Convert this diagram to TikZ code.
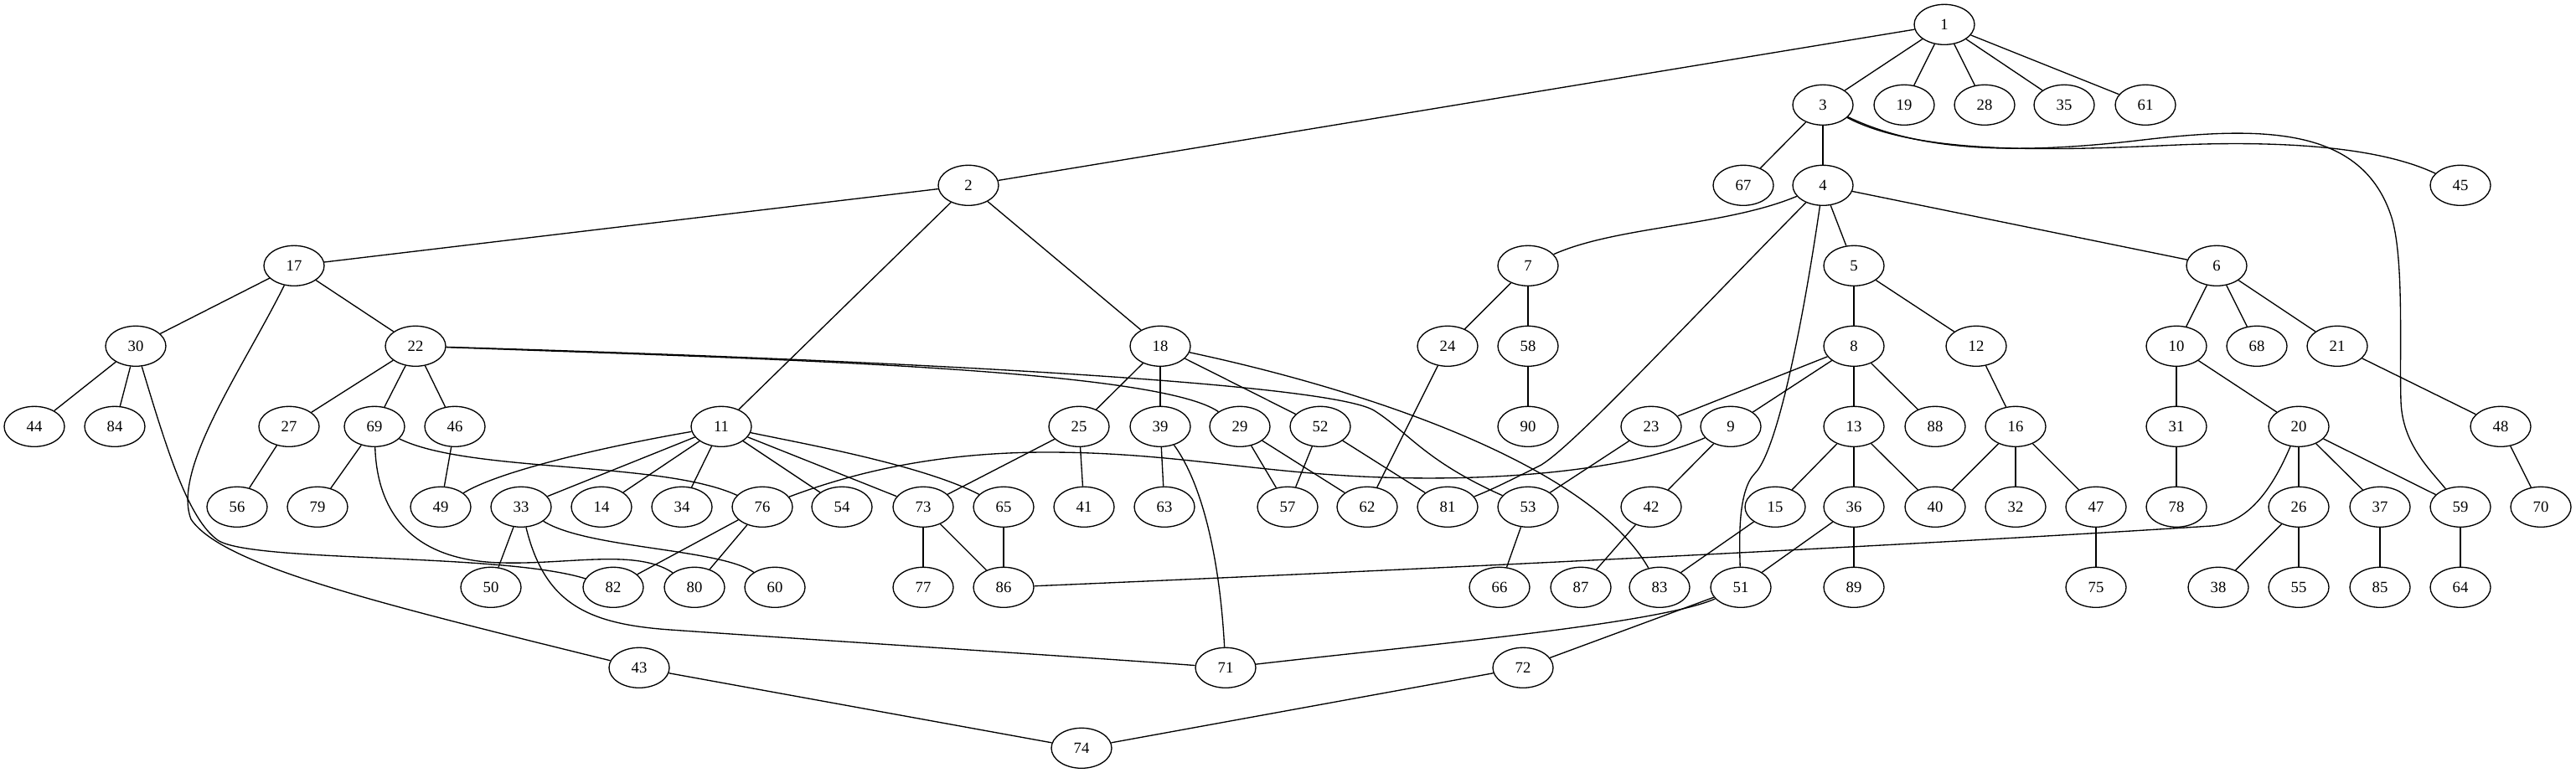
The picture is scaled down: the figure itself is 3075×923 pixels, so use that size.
\documentclass[tikz,border=0pt]{standalone}
\usepackage{fontspec}
\setmainfont{Liberation Serif}
\usetikzlibrary{shapes.geometric}
\begin{document}
\begin{tikzpicture}[x=0.75pt,y=-0.75pt,
  nd/.style={draw, ellipse, minimum width=54pt, minimum height=36pt, inner sep=0pt, line width=1pt, font=\fontsize{14}{16}\selectfont},
  ed/.style={line width=1pt}]
\useasboundingbox (0,0) rectangle (3075,923);
\def\ra{29.3}\def\rb{125.3}\def\rc{221.3}\def\rd{317.3}\def\re{413.3}
\def\rf{509.3}\def\rg{605.3}\def\rh{701.3}\def\ri{797.3}\def\rj{893.3}
\foreach \n/\x/\y in {1/2321/\ra, 2/1156/\rc, 3/2176/\rb, 4/2176/\rc, 5/2213/\rd, 6/2646/\rd, 7/1824/\rd,
 8/2213/\re, 9/2066/\rf, 10/2598/\re, 11/861/\rf, 12/2359/\re, 13/2213/\rf, 14/718/\rg, 15/2119/\rg,
 16/2406/\rf, 17/351/\rd, 18/1385/\re, 19/2273/\rb, 20/2744/\rf, 21/2790/\re, 22/496/\re, 23/1971/\rf,
 24/1728/\re, 25/1288/\rf, 26/2744/\rg, 27/345/\rf, 28/2369/\rb, 29/1480/\rf, 30/162/\re, 31/2598/\rf,
 32/2406/\rg, 33/622/\rg, 34/814/\rg, 35/2464/\rb, 36/2213/\rg, 37/2841/\rg, 38/2648/\rh, 39/1385/\rf,
 40/2310/\rg, 41/1294/\rg, 42/1971/\rg, 43/763/\ri, 44/41/\rf, 45/2937/\rc, 46/543/\rf, 47/2502/\rg,
 48/2985/\rf, 49/526/\rg, 50/586/\rh, 51/2078/\rh, 52/1576/\rf, 53/1824/\rg, 54/1005/\rg, 55/2744/\rh,
 56/283/\rg, 57/1537/\rg, 58/1824/\re, 59/2937/\rg, 60/925/\rh, 61/2561/\rb, 62/1632/\rg, 63/1390/\rg,
 64/2937/\rh, 65/1198/\rg, 66/1790/\rh, 67/2081/\rc, 68/2694/\re, 69/447/\rf, 70/3033/\rg, 71/1463/\ri,
 72/1818/\ri, 73/1102/\rg, 74/1291/\rj, 75/2502/\rh, 76/910/\rg, 77/1102/\rh, 78/2598/\rg, 79/379/\rg,
 80/829/\rh, 81/1728/\rg, 82/732/\rh, 83/1981/\rh, 84/137/\rf, 85/2841/\rh, 86/1198/\rh, 87/1887/\rh,
 88/2310/\rf, 89/2213/\rh, 90/1824/\rf}
 { \node[nd] (n\n) at (\x,\y) {\n}; }
% straight edges
\foreach \a/\b in {1/3,1/19,1/28,1/35,1/61,1/2,3/67,3/4,2/17,2/11,2/18,4/5,4/6,17/30,17/22,
 7/24,7/58,5/8,5/12,6/10,6/68,6/21,30/44,30/84,22/27,22/69,22/46,18/25,18/39,18/52,24/62,58/90,
 8/23,8/9,8/13,8/88,12/16,10/31,10/20,21/48,27/56,69/79,46/49,11/33,11/14,11/34,11/54,11/73,
 25/73,25/41,39/63,29/57,29/62,52/57,52/81,23/53,9/42,13/15,13/36,13/40,16/40,16/32,16/47,31/78,
 20/26,20/37,20/59,48/70,33/50,76/82,76/80,73/77,73/86,65/86,53/66,42/87,15/83,36/51,36/89,47/75,
 26/38,26/55,37/85,59/64,51/72,43/74,72/74}
 { \draw[ed] (n\a) -- (n\b); }
% curved edges
\draw[ed] (n17) .. controls (290,440) and (205,560) .. (228,620) .. controls (265,675) and (450,720) .. (n43);
\draw[ed] (n30) .. controls (200,540) and (225,620) .. (260,645) .. controls (300,672) and (600,660) .. (n82);
\draw[ed] (n69) .. controls (450,610) and (490,670) .. (600,672) .. controls (680,674) and (760,655) .. (n80);
\draw[ed] (n69) .. controls (560,565) and (790,550) .. (n76);
\draw[ed] (n33) .. controls (700,655) and (860,655) .. (n60);
\draw[ed] (n33) .. controls (650,720) and (700,745) .. (800,752) .. controls (1000,766) and (1300,785) .. (n71);
\draw[ed] (n11) .. controls (740,530) and (600,560) .. (n49);
\draw[ed] (n11) .. controls (960,530) and (1100,555) .. (n65);
\draw[ed] (n22) .. controls (900,428) and (1380,440) .. (n29);
\draw[ed] (n22) .. controls (1000,428) and (1580,455) .. (1640,490) .. controls (1680,515) and (1700,550) .. (n53);
\draw[ed] (n18) .. controls (1650,470) and (1900,560) .. (n83);
\draw[ed] (n4) .. controls (2060,270) and (1930,270) .. (n7);
\draw[ed] (n4) .. controls (2000,400) and (1880,530) .. (1840,555) .. controls (1800,575) and (1780,585) .. (n81);
\draw[ed] (n4) .. controls (2150,400) and (2120,540) .. (2095,565) .. controls (2075,585) and (2076,640) .. (n51);
\draw[ed] (n3) .. controls (2290,180) and (2400,185) .. (2550,168) .. controls (2700,150) and (2820,150) .. (2855,260)
  .. controls (2870,310) and (2864,420) .. (2866,480) .. controls (2868,530) and (2900,560) .. (n59);
\draw[ed] (n3) .. controls (2290,185) and (2450,180) .. (2600,173) .. controls (2750,167) and (2850,180) .. (n45);
\draw[ed] (n20) .. controls (2710,590) and (2680,625) .. (2640,628) .. controls (2300,650) and (1700,680) .. (n86);
\draw[ed] (n9) .. controls (1950,560) and (1800,575) .. (1650,570) .. controls (1500,565) and (1400,540) .. (1250,540)
  .. controls (1130,540) and (1030,560) .. (n76);
\draw[ed] (n39) .. controls (1430,570) and (1455,650) .. (n71);
\draw[ed] (n51) .. controls (1980,745) and (1700,770) .. (n71);
\end{tikzpicture}
\end{document}
